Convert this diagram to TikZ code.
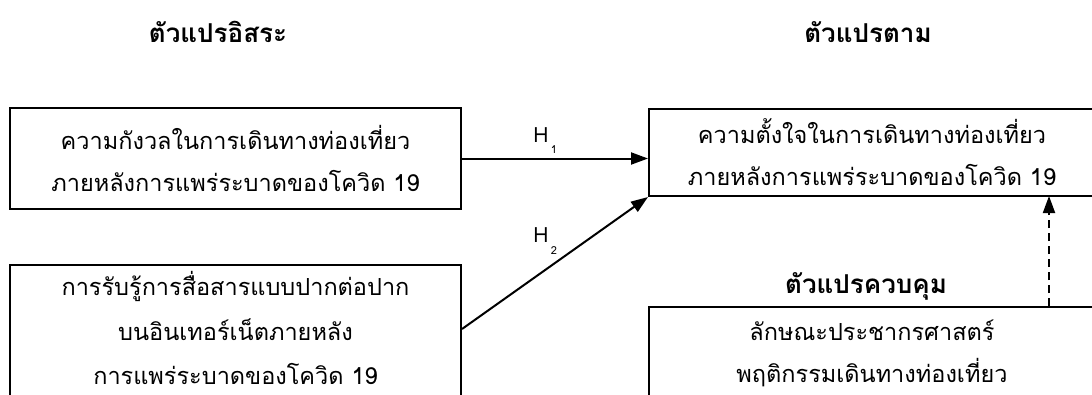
\documentclass[tikz,border=0pt]{standalone}
\usepackage{fontspec}
\newfontfamily\thai[Script=Thai]{Loma}
\setmainfont[Script=Thai]{Loma}
\usetikzlibrary{arrows.meta}
\begin{document}
\begin{tikzpicture}[x=1pt,y=-1pt,
  box/.style={draw,line width=2pt,align=center,inner sep=0pt,font=\fontsize{23.5}{42}\selectfont},
  btext/.style={align=center,inner sep=0pt,font=\fontsize{23.5}{44.5}\selectfont},
  title/.style={font=\fontsize{26}{28}\selectfont\bfseries,inner sep=0pt},
  hlab/.style={font=\fontsize{21}{22}\selectfont,inner sep=0pt},
  hsub/.style={font=\fontsize{11}{12}\selectfont,inner sep=0pt},
  arr/.style={line width=2pt,-{Triangle[length=17pt,width=12pt]}}]
\useasboundingbox (0,0) rectangle (1092,394);
\clip (0,0) rectangle (1092,394);
\node[title] (tindep) at (218,32) {ตัวแปรอิสระ};
\node[title] (tdep) at (868,32) {ตัวแปรตาม};
\node[title] (tctrl) at (866,286) {ตัวแปรควบคุม};
\node[box,minimum width=451pt,minimum height=101pt] (b1) at (235.5,158.5)
  {ความกังวลในการเดินทางท่องเที่ยว\\ภายหลังการแพร่ระบาดของโควิด 19};
\node[box,minimum width=451pt,minimum height=150pt] (b2) at (235.5,340) {};
\node[btext] (b2t) at (235.5,328)
  {การรับรู้การสื่อสารแบบปากต่อปาก\\บนอินเทอร์เน็ตภายหลัง\\การแพร่ระบาดของโควิด 19};
\node[box,minimum width=446pt,minimum height=87pt] (dep) at (872,152.5)
  {ความตั้งใจในการเดินทางท่องเที่ยว\\ภายหลังการแพร่ระบาดของโควิด 19};
\node[box,minimum width=446pt,minimum height=92pt] (ctrl) at (872,353)
  {ลักษณะประชากรศาสตร์\\พฤติกรรมเดินทางท่องเที่ยว};
\draw[arr] (b1.east) -- (b1.east -| dep.west);
\draw[arr] (b2.east |- 0,329) -- (dep.south west);
\coordinate (dtop) at (1049,196);
\draw[arr,dashed,dash pattern=on 8pt off 5pt] (ctrl.north -| dtop) -- (dtop);
\node[hlab] (h1) at (541,135) {H};
\node[hsub] (s1) at (554,150) {1};
\node[hlab] (h2) at (541,235) {H};
\node[hsub] (s2) at (554,251) {2};
\end{tikzpicture}
\end{document}
